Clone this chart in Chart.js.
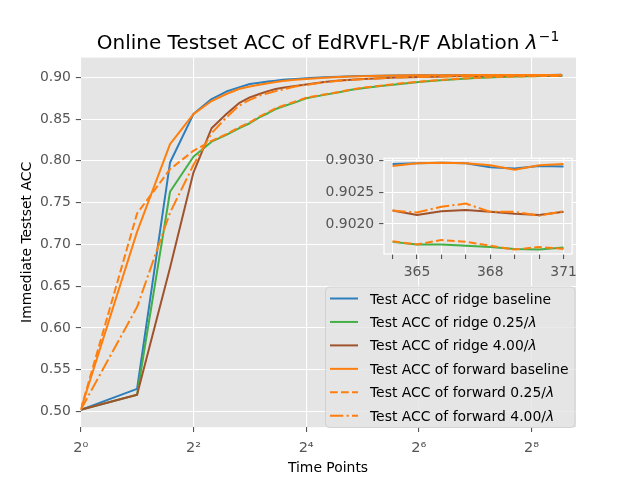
<!DOCTYPE html>
<html><head><meta charset="utf-8">
<script src="https://cdn.jsdelivr.net/npm/chart.js@4.4.1/dist/chart.umd.min.js"></script>
<style>
html,body{margin:0;padding:0;background:#fff;}
#wrap{position:relative;width:640px;height:480px;overflow:hidden;}
#main{position:absolute;left:0;top:0;width:640px;height:480px;}
#inset{position:absolute;left:320px;top:145px;width:262px;height:140px;}
</style></head><body>
<div id="wrap"><canvas id="main" width="640" height="480"></canvas><canvas id="inset" width="262" height="140"></canvas></div>
<script>
// ---------------- DATA ----------------
const timePoints = [1,2,3,4,5,6,7,8,9,10,11,12,14,16,20,24,28,32,40,48,64,80,96,128,160,192,256,320,364,365,366,367,368,369,370,371];
const ridgeBaseline = [0.502,0.527,0.798,0.856,0.874,0.883,0.888,0.892,0.8935,0.895,0.896,0.897,0.898,0.899,0.900,0.9008,0.9012,0.9015,0.902,0.9022,0.9024,0.9025,0.9026,0.9027,0.9028,0.9028,0.9029,0.9029,
  0.90294,0.90295,0.90296,0.90295,0.90289,0.90287,0.90291,0.90290];
const ridge025 = [0.502,0.520,0.763,0.805,0.823,0.831,0.839,0.845,0.852,0.857,0.862,0.865,0.870,0.875,0.879,0.882,0.885,0.887,0.8895,0.8915,0.8945,0.8962,0.8975,0.8992,0.9002,0.9007,0.9012,0.9015,
  0.90172,0.90168,0.90168,0.90166,0.90164,0.90161,0.90160,0.90163];
const ridge400 = [0.502,0.520,0.672,0.786,0.839,0.856,0.869,0.876,0.880,0.8835,0.886,0.8875,0.8895,0.8915,0.8945,0.8962,0.8972,0.898,0.899,0.8998,0.9004,0.9008,0.9012,0.9016,0.9018,0.902,0.9021,0.9022,
  0.90221,0.90214,0.90220,0.90222,0.90219,0.90216,0.90214,0.90219];
const forwardBaseline = [0.502,0.715,0.820,0.856,0.8716,0.880,0.886,0.889,0.891,0.893,0.8945,0.8955,0.897,0.898,0.8995,0.9005,0.901,0.9014,0.9019,0.9021,0.9024,0.9025,0.9026,0.9027,0.9028,0.9028,0.9029,0.9029,
  0.90291,0.90295,0.90296,0.90295,0.90292,0.90285,0.90292,0.90294];
const forward025 = [0.502,0.737,0.790,0.812,0.824,0.832,0.840,0.846,0.853,0.858,0.863,0.866,0.871,0.8755,0.8795,0.8825,0.8855,0.8875,0.890,0.892,0.8948,0.8964,0.8977,0.8993,0.9003,0.9008,0.9013,0.9016,
  0.90173,0.90168,0.90175,0.90172,0.90166,0.90160,0.90164,0.90161];
const forward400 = [0.502,0.625,0.738,0.795,0.833,0.852,0.866,0.873,0.878,0.881,0.8835,0.8855,0.889,0.891,0.894,0.896,0.897,0.8978,0.8988,0.8997,0.9004,0.9008,0.9012,0.9016,0.9018,0.902,0.9021,0.9022,
  0.90221,0.90218,0.90227,0.90232,0.90219,0.90219,0.90213,0.90220];

const xTickValues = [1,4,16,64,256];
const xTickLabels = ['2\u2070','2\u00B2','2\u2074','2\u2076','2\u2078'];
const yTickValues = [0.50,0.55,0.60,0.65,0.70,0.75,0.80,0.85,0.90];
const insetXTicks = [364,365,366,367,368,369,370,371];
const insetXLabelled = [365,368,371];
const insetYTicks = [0.9020,0.9025,0.9030];

const seriesNames = ['Test ACC of ridge baseline','Test ACC of ridge 0.25/','Test ACC of ridge 4.00/',
  'Test ACC of forward baseline','Test ACC of forward 0.25/','Test ACC of forward 4.00/'];
const seriesLambda = [false,true,true,false,true,true];
const seriesValues = [ridgeBaseline, ridge025, ridge400, forwardBaseline, forward025, forward400];

// ---------------- STYLE ----------------
const FONT = 'DejaVu Sans';
const colors = ['#2e7ebc','#43b047','#a0522d','#ff7f0e','#ff7f0e','#ff7f0e'];
const dashes = [[],[],[],[],[7.7,3.3],[13.3,3.3,2.1,3.3]];
const LW = 2.0;

function makeDatasets(filterFn, lw){
  return seriesValues.map((vals,k)=>({
    label: seriesNames[k],
    data: timePoints.map((t,i)=>({x:t,y:vals[i]})).filter(p=>filterFn(p.x)),
    borderColor: colors[k],
    backgroundColor: colors[k],
    borderWidth: lw,
    borderDash: dashes[k],
    borderCapStyle: 'butt',
    borderJoinStyle: 'round',
    pointRadius: 0,
    tension: 0,
    fill: false,
    order: 6-k
  }));
}

const bgPlugin = {id:'bg', beforeDraw(c){
  const a=c.chartArea, x=c.ctx; x.save(); x.fillStyle='#E5E5E5';
  x.fillRect(a.left,a.top,a.right-a.left,a.bottom-a.top); x.restore();
}};

const textPlugin = {id:'texts', afterDraw(c){
  const x=c.ctx; x.save();
  // Title
  const t1='Online Testset ACC of EdRVFL-R/F Ablation ';
  x.font='20px '+FONT; const w1=x.measureText(t1).width;
  x.font='italic 20px '+FONT; const wl=x.measureText('\u03BB').width;
  x.font='14px '+FONT; const ws=x.measureText('\u22121').width;
  const total=w1+wl+1+ws; let sx=328-total/2; const by=48.5;
  x.fillStyle='#000'; x.textBaseline='alphabetic'; x.textAlign='left';
  x.font='20px '+FONT; x.fillText(t1,sx,by); sx+=w1;
  x.font='italic 20px '+FONT; x.fillText('\u03BB',sx,by); sx+=wl+1;
  x.font='14px '+FONT; x.fillText('\u22121',sx,by-8);
  // axis titles
  x.font='13.9px '+FONT; x.textAlign='center';
  x.fillText('Time Points',328,472);
  x.save(); x.translate(31,242.4); x.rotate(-Math.PI/2); x.fillText('Immediate Testset ACC',0,0); x.restore();
  // Legend
  const L=325.5,T=287,R=575,B=427.5,r=4;
  x.beginPath(); x.moveTo(L+r,T); x.lineTo(R-r,T); x.quadraticCurveTo(R,T,R,T+r); x.lineTo(R,B-r);
  x.quadraticCurveTo(R,B,R-r,B); x.lineTo(L+r,B); x.quadraticCurveTo(L,B,L,B-r); x.lineTo(L,T+r); x.quadraticCurveTo(L,T,L+r,T); x.closePath();
  x.fillStyle='rgba(229,229,229,0.8)'; x.fill(); x.strokeStyle='rgba(204,204,204,0.8)'; x.lineWidth=1; x.stroke();
  for(let k=0;k<6;k++){
    const cy=298.5+k*23.45;
    x.beginPath(); x.setLineDash(dashes[k]); x.lineCap='butt'; x.strokeStyle=colors[k]; x.lineWidth=LW;
    x.moveTo(330,cy); x.lineTo(358,cy); x.stroke(); x.setLineDash([]);
    x.fillStyle='#000'; x.textAlign='left'; x.font='13.9px '+FONT;
    x.fillText(seriesNames[k],370,cy+5);
    if(seriesLambda[k]){
      const w=x.measureText(seriesNames[k]).width;
      x.font='italic 13.9px '+FONT; x.fillText('\u03BB',370+w,cy+5);
    }
  }
  x.restore();
}};

const tickFont = {family:FONT,size:13.9};
new Chart(document.getElementById('main'), {
  type:'line',
  data:{datasets: makeDatasets(()=>true, LW)},
  options:{
    responsive:false, animation:false, devicePixelRatio:1,
    layout:{padding:{left:0,right:64,top:57.6,bottom:0}},
    plugins:{legend:{display:false},tooltip:{enabled:false},title:{display:false}},
    scales:{
      x:{type:'logarithmic', min:1, max:442,
        afterFit(s){s.height=52.8;},
        afterBuildTicks(s){s.ticks=xTickValues.map(v=>({value:v}));},
        ticks:{callback:(v)=>{const i=xTickValues.indexOf(v);return i>=0?xTickLabels[i]:'';}, font:{family:FONT,size:14.5}, color:'#555', padding:7.5, maxRotation:0, autoSkip:false},
        grid:{color:'#fff', lineWidth:1.1, tickColor:'#555', tickLength:4.9, tickWidth:1.1},
        border:{display:false}
      },
      y:{type:'linear', min:0.4812, max:0.9236,
        afterFit(s){s.width=80.7;},
        afterBuildTicks(s){s.ticks=yTickValues.map(v=>({value:v}));},
        ticks:{callback:(v)=>Number(v).toFixed(2), font:tickFont, color:'#555', padding:4.9},
        grid:{color:'#fff', lineWidth:1.1, tickColor:'#555', tickLength:4.9, tickWidth:1.1},
        border:{display:false}
      }
    }
  },
  plugins:[bgPlugin,textPlugin]
});

const borderPlugin = {id:'brd', afterDatasetsDraw(c){
  const a=c.chartArea,x=c.ctx; x.save(); x.strokeStyle='#fff'; x.lineWidth=1.2;
  x.strokeRect(a.left,a.top,a.right-a.left,a.bottom-a.top); x.restore();
}};

new Chart(document.getElementById('inset'), {
  type:'line',
  data:{datasets: makeDatasets((t)=>t>=364, LW)},
  options:{
    responsive:false, animation:false, devicePixelRatio:1,
    layout:{padding:{left:0,right:6,top:13,bottom:0}},
    plugins:{legend:{display:false},tooltip:{enabled:false},title:{display:false}},
    scales:{
      x:{type:'linear', min:363.65, max:371.35,
        afterFit(s){s.height=31;},
        afterBuildTicks(s){s.ticks=insetXTicks.map(v=>({value:v}));},
        ticks:{callback:(v)=>insetXLabelled.includes(v)?String(v):'', font:tickFont, color:'#555', padding:4.9, maxRotation:0, autoSkip:false},
        grid:{color:'#fff', lineWidth:1.1, tickColor:'#555', tickLength:4.9, tickWidth:1.1},
        border:{display:false}
      },
      y:{type:'linear', min:0.90153, max:0.90303,
        afterFit(s){s.width=64;},
        afterBuildTicks(s){s.ticks=insetYTicks.map(v=>({value:v}));},
        ticks:{callback:(v)=>Number(v).toFixed(4), font:tickFont, color:'#555', padding:4.9},
        grid:{color:'#fff', lineWidth:1.1, tickColor:'#555', tickLength:4.9, tickWidth:1.1},
        border:{display:false}
      }
    }
  },
  plugins:[bgPlugin,borderPlugin]
});
</script>
</body></html>
